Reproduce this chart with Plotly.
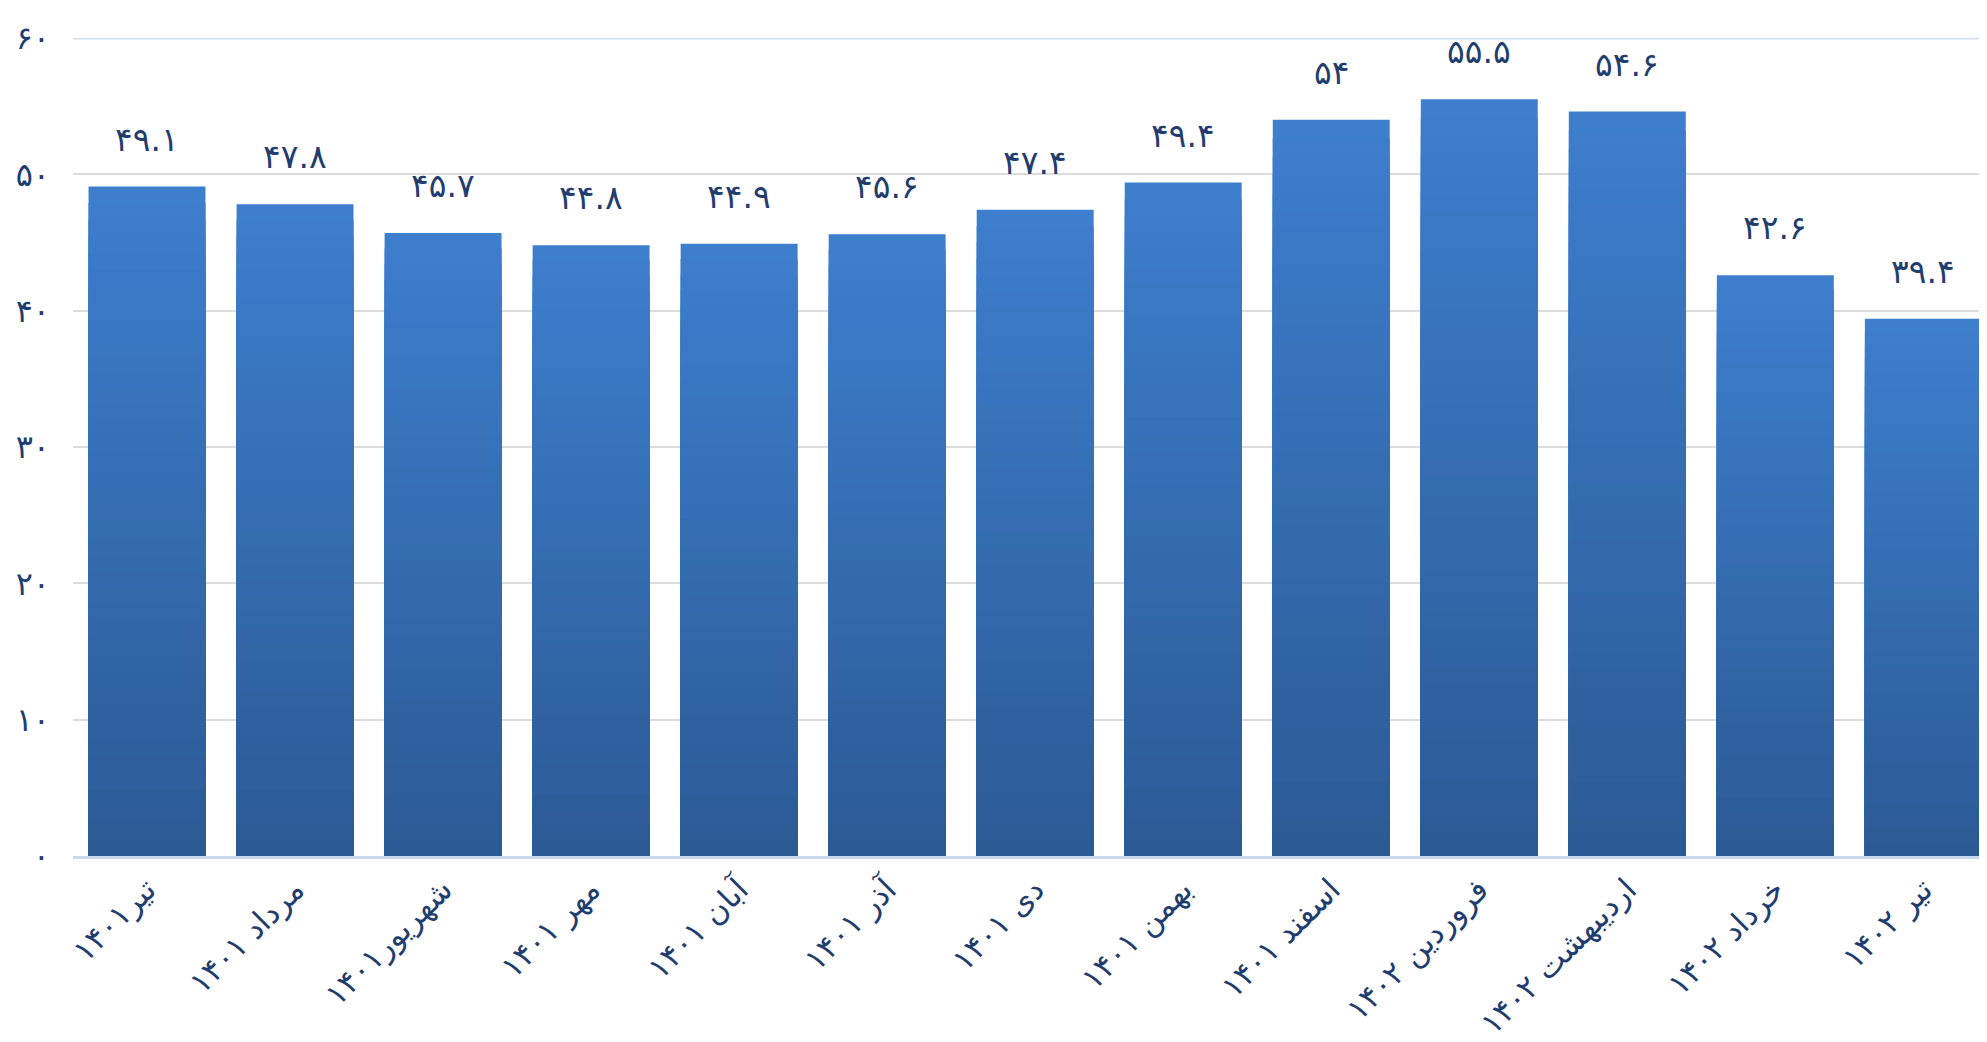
import plotly.graph_objects as go

categories = ["تیر۱۴۰۱", "مرداد ۱۴۰۱", "شهریور۱۴۰۱", "مهر ۱۴۰۱", "آبان ۱۴۰۱", "آذر ۱۴۰۱",
              "دی ۱۴۰۱", "بهمن ۱۴۰۱", "اسفند ۱۴۰۱", "فروردین ۱۴۰۲", "اردیبهشت ۱۴۰۲",
              "خرداد ۱۴۰۲", "تیر ۱۴۰۲"]
values = [49.1, 47.8, 45.7, 44.8, 44.9, 45.6, 47.4, 49.4, 54, 55.5, 54.6, 42.6, 39.4]
ytick_vals = [0, 10, 20, 30, 40, 50, 60]

FA = str.maketrans("0123456789", "۰۱۲۳۴۵۶۷۸۹")
def fa(v):
    s = f"{v:g}"
    return s.translate(FA)

ytick_text = [fa(v) for v in ytick_vals]
label_text = [fa(v) for v in values]

navy = "#1f3d6e"
font = "DejaVu Sans"

top_rgb = (0x3d, 0x7e, 0xcd)
bot_rgb = (0x2c, 0x5a, 0x95)
N = 40

fig = go.Figure()
for k in range(N):
    frac = 1 - k / N
    t = k / (N - 1)
    c = tuple(round(top_rgb[i] + (bot_rgb[i] - top_rgb[i]) * t) for i in range(3))
    fig.add_trace(go.Bar(
        x=categories, y=[v * frac for v in values],
        marker=dict(color=f"rgb{c}", line=dict(width=0)),
        showlegend=False,
        hoverinfo="skip" if k else "x+y",
    ))

for cat, v, txt in zip(categories, values, label_text):
    fig.add_annotation(x=cat, y=v, text=txt, showarrow=False, yanchor="bottom",
                       yshift=26, font=dict(family=font, size=33, color=navy))

fig.add_shape(type="line", xref="paper", x0=0, x1=1, yref="y", y0=60, y1=60,
              line=dict(color="#cfdff2", width=3), layer="below")

fig.update_layout(
    width=1987, height=1042,
    barmode="overlay", bargap=0.21,
    plot_bgcolor="white", paper_bgcolor="white",
    margin=dict(l=65, r=8, t=30, b=188),
    font=dict(family=font, color=navy),
    xaxis=dict(
        range=[-0.5, 12.43], tickangle=-45, tickfont=dict(size=31, color=navy),
        showline=True, linecolor="#c6d9f0", linewidth=3, showgrid=False, ticks="",
    ),
    yaxis=dict(
        range=[0, 60], tickvals=ytick_vals, ticktext=ytick_text,
        tickfont=dict(size=32, color=navy), gridcolor="#dcdcdc", gridwidth=2,
        zeroline=False, showline=False, ticklabelstandoff=22,
    ),
)

fig.write_html("out.html")
